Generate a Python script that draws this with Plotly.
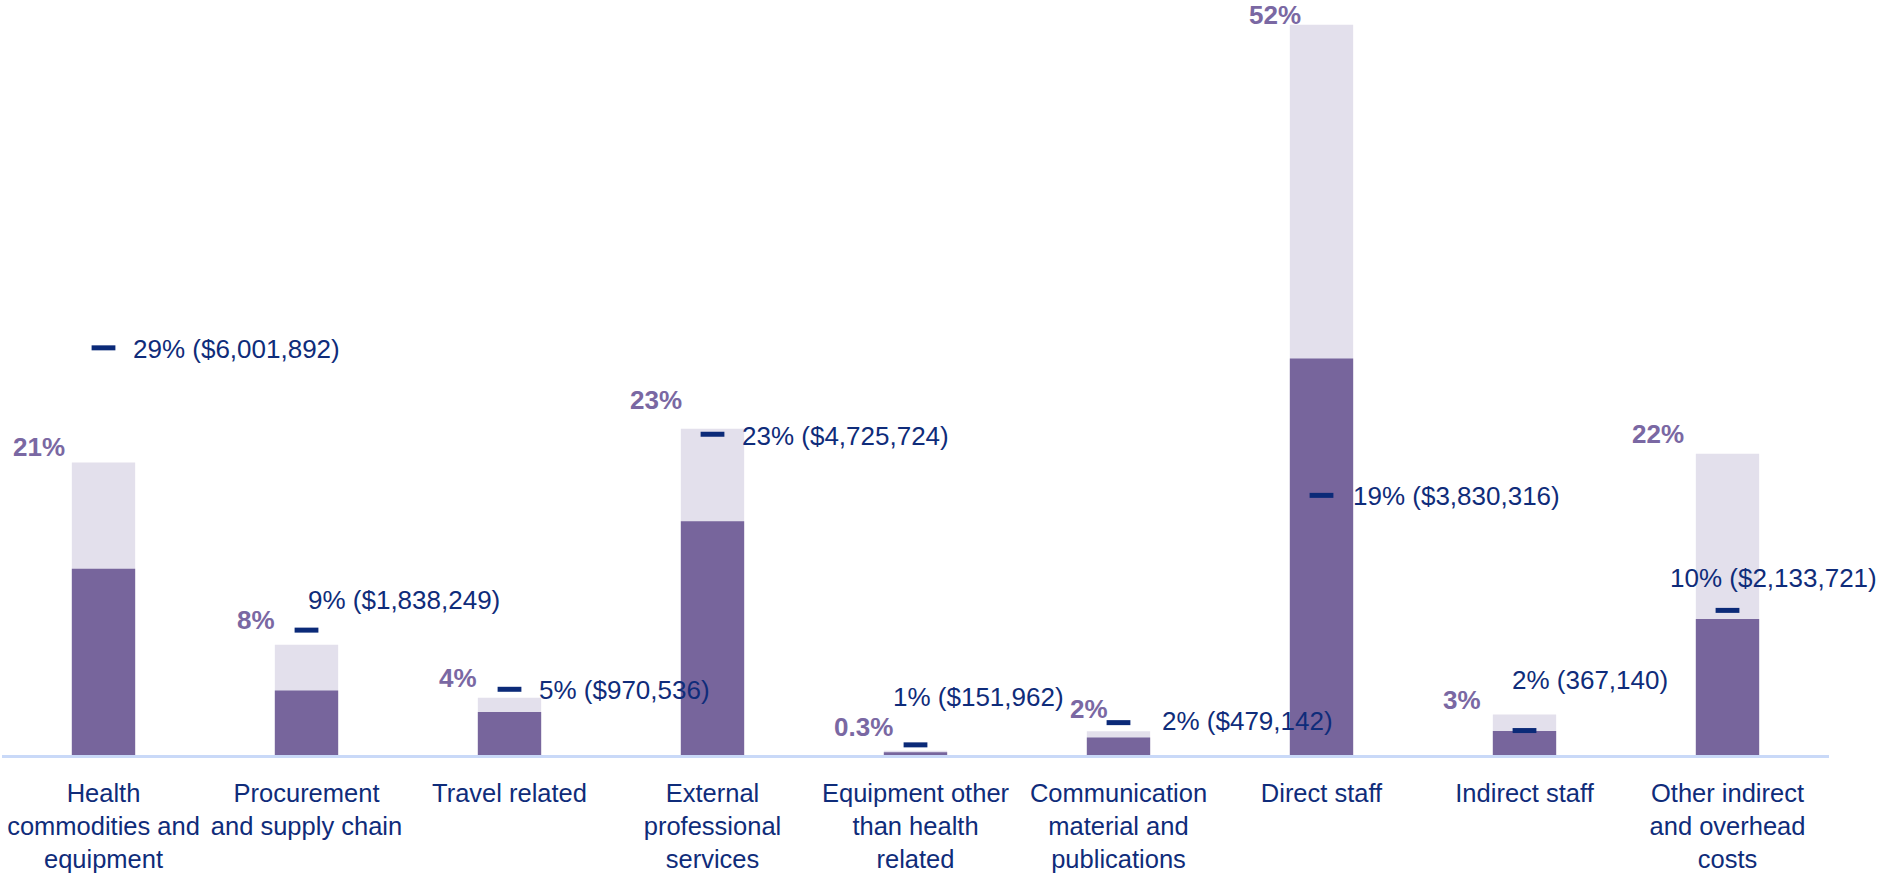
import plotly.graph_objects as go

categories = [
    "Health<br>commodities and<br>equipment",
    "Procurement<br>and supply chain",
    "Travel related",
    "External<br>professional<br>services",
    "Equipment other<br>than health<br>related",
    "Communication<br>material and<br>publications",
    "Direct staff",
    "Indirect staff",
    "Other indirect<br>and overhead<br>costs",
]
total_pct = [21.06, 7.94, 4.12, 23.49, 0.31, 1.71, 52.57, 2.92, 21.68]
part_pct = [13.41, 4.64, 3.09, 16.83, 0.19, 1.26, 28.55, 1.73, 9.79]
marker_pct = [29.31, 8.99, 4.73, 23.09, 0.73, 2.33, 18.69, 1.76, 10.41]
total_labels = ["21%", "8%", "4%", "23%", "0.3%", "2%", "52%", "3%", "22%"]
marker_labels = [
    "29% ($6,001,892)", "9% ($1,838,249)", "5% ($970,536)", "23% ($4,725,724)",
    "1% ($151,962)", "2% ($479,142)", "19% ($3,830,316)", "2% (367,140)",
    "10% ($2,133,721)",
]

LIGHT = "#E3E0EC"
DARK = "#77659C"
PURPLE_TXT = "#7A68A3"
NAVY = "#0B2A78"
NAVY_TXT = "#0F2C7A"
FONT = "Liberation Sans, Arial, sans-serif"

fig = go.Figure()
fig.add_trace(go.Bar(x=categories, y=total_pct, width=0.312, marker=dict(color=LIGHT, line=dict(width=0)),
                     hoverinfo="skip", showlegend=False))
fig.add_trace(go.Bar(x=categories, y=part_pct, width=0.312, marker=dict(color=DARK, line=dict(width=0)),
                     hoverinfo="skip", showlegend=False))
fig.add_trace(go.Scatter(x=categories, y=marker_pct, mode="markers",
                         marker=dict(symbol="line-ew", size=17, line=dict(width=5, color=NAVY), color=NAVY),
                         hoverinfo="skip", showlegend=False, cliponaxis=False))

# label placement in pixels relative to each category centre / value
marker_xshift = [27, -1, 27, 27, -25, 41, 29, -15, -60]
marker_yshift = [-1, 30, -1, -2, 48, 2, -1, 51, 32]
total_xshift = [-65, -51, -52, -57, -52, -30, -47, -63, -70]
total_yshift = [15, 25, 20, 29, 24, 22, 10, 14, 20]

annotations = []
for i, cat in enumerate(categories):
    annotations.append(dict(x=cat, y=marker_pct[i], xref="x", yref="y", text=marker_labels[i],
                            showarrow=False, xanchor="left", yanchor="middle",
                            xshift=marker_xshift[i], yshift=marker_yshift[i],
                            font=dict(family=FONT, size=26, color=NAVY_TXT)))
    annotations.append(dict(x=cat, y=total_pct[i], xref="x", yref="y", text="<b>%s</b>" % total_labels[i],
                            showarrow=False, xanchor="center", yanchor="middle",
                            xshift=total_xshift[i], yshift=total_yshift[i],
                            font=dict(family=FONT, size=26, color=PURPLE_TXT)))

fig.update_layout(
    width=1881, height=873,
    margin=dict(l=2, r=52, t=0, b=111, pad=0),
    barmode="overlay",
    plot_bgcolor="white", paper_bgcolor="white",
    font=dict(family=FONT, color=NAVY_TXT),
    annotations=annotations,
    xaxis=dict(showline=True, linecolor="#C9D9F8", linewidth=3, showgrid=False, zeroline=False,
               range=[-0.5, 8.5], ticks="", ticklabelstandoff=13,
               tickfont=dict(family=FONT, size=25.5, color=NAVY_TXT), fixedrange=True),
    yaxis=dict(visible=False, range=[0, 54.35], fixedrange=True),
)

fig.write_html("out.html", config={"displayModeBar": False},
               post_script="document.body.style.margin='0';document.body.style.overflow='hidden';")
